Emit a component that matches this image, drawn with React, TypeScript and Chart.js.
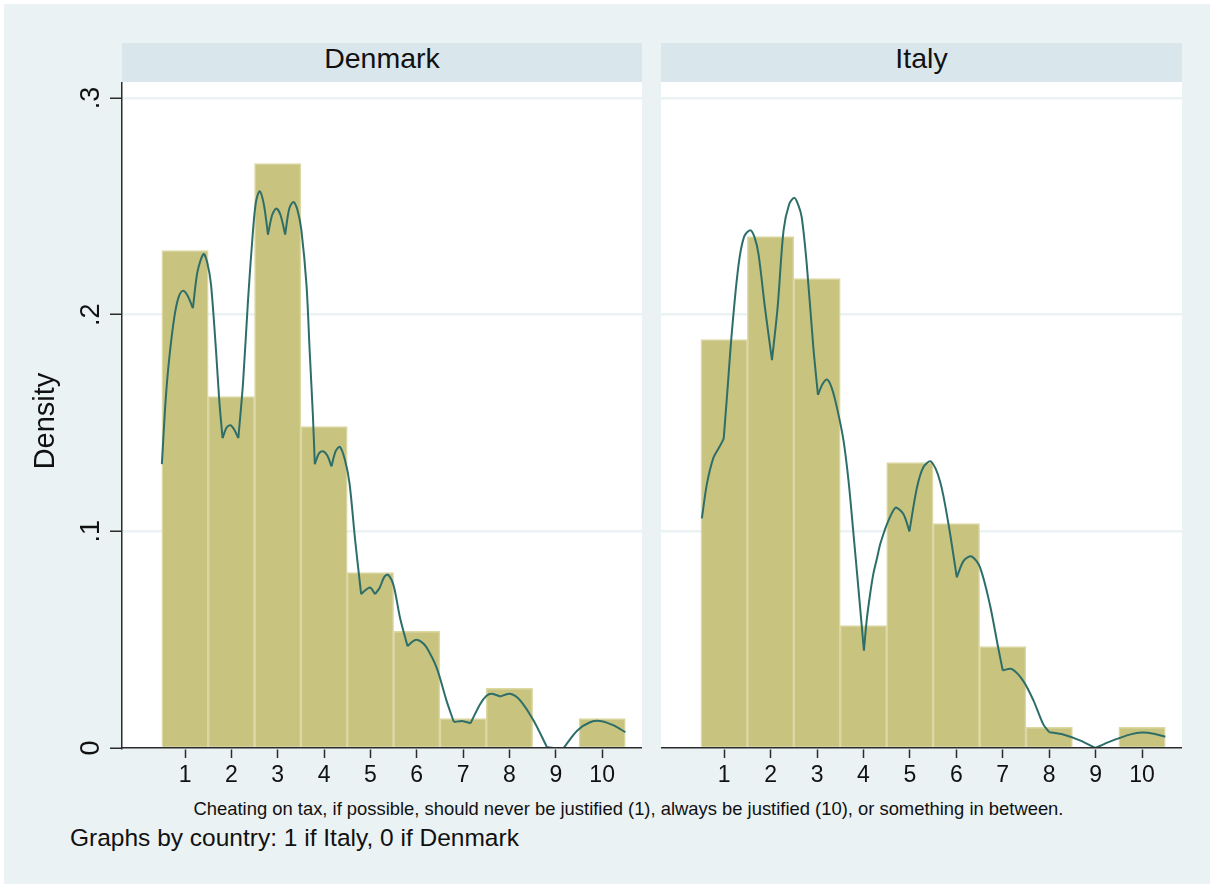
import React, { useEffect, useRef } from 'react';
import { Chart, registerables } from 'chart.js';

Chart.register(...registerables);

// ---------- data ----------
const categories = [1, 2, 3, 4, 5, 6, 7, 8, 9, 10];
const denmarkBars = [0.2296, 0.1622, 0.2697, 0.1484, 0.081, 0.0538, 0.0136, 0.0275, 0, 0.0136];
const italyBars = [0.1885, 0.236, 0.2167, 0.0565, 0.1317, 0.1036, 0.0468, 0.0095, 0, 0.0095];

const denmarkCurveX = [
  0.5, 0.58, 0.66, 0.77, 0.86, 0.95, 1.05, 1.17, 1.27, 1.4, 1.48, 1.56, 1.67, 1.74, 1.81, 1.9, 1.98,
  2.06, 2.15, 2.25, 2.36, 2.46, 2.53, 2.61, 2.7, 2.79, 2.88, 2.97, 3.06, 3.16, 3.25, 3.34, 3.43, 3.51,
  3.62, 3.69, 3.76, 3.8, 3.89, 3.98, 4.07, 4.16, 4.25, 4.34, 4.45, 4.55, 4.67, 4.8, 4.9, 5.0, 5.1,
  5.2, 5.3, 5.38, 5.5, 5.64, 5.8, 5.9, 5.99, 6.1, 6.21, 6.43, 6.64, 6.8, 7.0, 7.16, 7.36, 7.5, 7.62,
  7.8, 8.01, 8.23, 8.52, 8.81, 9.0, 9.17, 9.46, 9.74, 9.99, 10.25, 10.5,
];
const denmarkCurveY = [
  0.131, 0.16, 0.18, 0.199, 0.208, 0.211, 0.209, 0.203, 0.22, 0.228, 0.224, 0.214, 0.183, 0.16, 0.143,
  0.148, 0.149, 0.147, 0.143, 0.168, 0.207, 0.237, 0.252, 0.257, 0.251, 0.237, 0.246, 0.249, 0.246,
  0.237, 0.249, 0.252, 0.248, 0.239, 0.214, 0.183, 0.153, 0.131, 0.136, 0.137, 0.135, 0.13, 0.137,
  0.139, 0.133, 0.122, 0.096, 0.071, 0.073, 0.074, 0.071, 0.074, 0.079, 0.08, 0.075, 0.06, 0.047,
  0.049, 0.05, 0.049, 0.0465, 0.037, 0.022, 0.012, 0.0124, 0.0114, 0.02, 0.024, 0.025, 0.0238, 0.025,
  0.022, 0.0127, 0.0004, 0, 0, 0.008, 0.0119, 0.0124, 0.0104, 0.0073,
];
// x positions where the density estimate has a kink (local cusps)
const denmarkCusps = [1.17, 1.81, 2.15, 2.79, 3.16, 3.8, 4.16, 4.8, 5.1, 5.8, 6.8, 7.16, 7.8, 8.81, 9.17];

const italyCurveX = [
  0.52, 0.63, 0.77, 0.9, 0.99, 1.06, 1.17, 1.31, 1.43, 1.56, 1.65, 1.74, 1.88, 2.03, 2.15, 2.28, 2.4,
  2.51, 2.59, 2.67, 2.78, 2.92, 3.02, 3.12, 3.22, 3.32, 3.43, 3.57, 3.68, 3.78, 3.89, 4.01, 4.07, 4.14,
  4.21, 4.29, 4.36, 4.43, 4.5, 4.58, 4.64, 4.7, 4.86, 4.99, 5.15, 5.29, 5.45, 5.65, 5.83, 6.01, 6.16,
  6.33, 6.51, 6.72, 6.9, 7.0, 7.19, 7.44, 7.66, 7.87, 8.0, 8.3, 8.66, 9.0, 9.25, 9.5, 9.75, 10.0,
  10.25, 10.5,
];
const italyCurveY = [
  0.106, 0.122, 0.134, 0.139, 0.1427, 0.162, 0.193, 0.223, 0.236, 0.239, 0.236, 0.228, 0.203, 0.179,
  0.203, 0.239, 0.251, 0.254, 0.251, 0.245, 0.223, 0.185, 0.163, 0.168, 0.17, 0.166, 0.157, 0.142,
  0.123, 0.1, 0.074, 0.045, 0.059, 0.0705, 0.08, 0.0875, 0.094, 0.0988, 0.103, 0.107, 0.1095, 0.111,
  0.108, 0.1, 0.12, 0.1296, 0.1323, 0.123, 0.1035, 0.0788, 0.0865, 0.0884, 0.0834, 0.0665, 0.0465,
  0.0358, 0.0365, 0.031, 0.022, 0.011, 0.0073, 0.0062, 0.0035, 0, 0.0025, 0.0045, 0.0063, 0.0071,
  0.0066, 0.0052,
];
const italyCusps = [0.99, 2.03, 3.02, 4.01, 4.99, 6.01, 7.0, 8.0, 9.0];

const xTickValues = [1, 2, 3, 4, 5, 6, 7, 8, 9, 10];
const yTickValues = [0, 0.1, 0.2, 0.3];
const yTickLabels = ['0', '.1', '.2', '.3'];
const panelTitles = ['Denmark', 'Italy'];
const yTitle = 'Density';
const xTitle =
  'Cheating on tax, if possible, should never be justified (1), always be justified (10), or something in between.';
const noteText = 'Graphs by country: 1 if Italy, 0 if Denmark';

// ---------- style ----------
const FONT = '"Liberation Sans", Arial, Helvetica, sans-serif';
const OUTER_BG = '#EAF2F3';
const HEADER_BG = '#D9E6EB';
const GRID = '#EAF2F3';
const AXIS = '#2b2b2b';
const TEXT = '#111111';
const BAR_FILL = '#C9C380';
const BAR_EDGE = '#DCD8A3';
const CURVE = '#2E6E69';

const X_MIN = -0.36;
const X_MAX = 10.86;
const Y_MAX = 0.3074;

// split the curve into smooth pieces that meet at the cusps
function splitCurve(xs: number[], ys: number[], cusps: number[]) {
  const pieces: { x: number; y: number }[][] = [];
  let cur: { x: number; y: number }[] = [];
  xs.forEach((x, i) => {
    const p = { x, y: ys[i] };
    cur.push(p);
    if (cusps.some((c) => Math.abs(c - x) < 1e-6) && i > 0 && i < xs.length - 1) {
      pieces.push(cur);
      cur = [p];
    }
  });
  if (cur.length > 1) pieces.push(cur);
  return pieces;
}

type PanelProps = {
  left: number;
  top: number;
  width: number;
  height: number;
  bars: number[];
  cx: number[];
  cy: number[];
  cusps: number[];
  showY: boolean;
};

function Panel({ left, top, width, height, bars, cx, cy, cusps, showY }: PanelProps) {
  const ref = useRef<HTMLCanvasElement>(null);

  useEffect(() => {
    const canvas = ref.current;
    if (!canvas) return;

    const whiteArea = {
      id: 'whiteArea',
      beforeDraw(chart: any) {
        const { ctx, chartArea } = chart;
        ctx.save();
        ctx.fillStyle = '#ffffff';
        ctx.fillRect(chartArea.left, chartArea.top, chartArea.right - chartArea.left, chartArea.bottom - chartArea.top);
        ctx.restore();
      },
    };

    const yLabels = {
      id: 'yLabels',
      afterDraw(chart: any) {
        if (!showY) return;
        const { ctx, chartArea } = chart;
        const ys = chart.scales.y;
        ctx.save();
        ctx.fillStyle = TEXT;
        ctx.textAlign = 'center';
        ctx.textBaseline = 'alphabetic';
        ctx.font = `27px ${FONT}`;
        yTickValues.forEach((v, i) => {
          const py = ys.getPixelForValue(v);
          ctx.save();
          ctx.translate(chartArea.left - 23, py);
          ctx.rotate(-Math.PI / 2);
          ctx.fillText(yTickLabels[i], 0, 0);
          ctx.restore();
        });
        ctx.font = `29px ${FONT}`;
        ctx.save();
        ctx.translate(chartArea.left - 68, (chartArea.top + chartArea.bottom) / 2 + 6);
        ctx.rotate(-Math.PI / 2);
        ctx.fillText(yTitle, 0, 0);
        ctx.restore();
        ctx.restore();
      },
    };

    const curveSets = splitCurve(cx, cy, cusps).map((piece) => ({
      type: 'line',
      data: piece,
      borderColor: CURVE,
      borderWidth: 2,
      pointRadius: 0,
      tension: 0.3,
      fill: false,
      order: 0,
    }));

    const chart = new Chart(canvas, {
      type: 'bar',
      data: {
        datasets: [
          ...(curveSets as any[]),
          {
            type: 'bar',
            data: categories.map((c, i) => ({ x: c, y: bars[i] })),
            backgroundColor: BAR_FILL,
            borderColor: BAR_EDGE,
            borderWidth: 1.5,
            barPercentage: 1,
            categoryPercentage: 1,
            order: 1,
          } as any,
        ],
      },
      options: {
        animation: false,
        responsive: false,
        devicePixelRatio: 1,
        events: [],
        layout: { padding: 0 },
        plugins: {
          legend: { display: false },
          tooltip: { enabled: false },
          title: { display: false },
        },
        scales: {
          x: {
            type: 'linear',
            min: X_MIN,
            max: X_MAX,
            offset: false,
            afterBuildTicks: (s: any) => {
              s.ticks = xTickValues.map((v) => ({ value: v }));
            },
            afterFit: (s: any) => {
              s.height = 44;
            },
            grid: {
              drawOnChartArea: false,
              drawTicks: true,
              tickLength: 10,
              tickColor: AXIS,
              tickWidth: 1.5,
              offset: false,
            },
            border: { display: true, color: AXIS, width: 1.5, z: 1 },
            ticks: {
              font: { family: FONT, size: 23 },
              color: TEXT,
              padding: 4,
              maxRotation: 0,
              autoSkip: false,
              callback: (v: any) => String(v),
            },
          },
          y: {
            type: 'linear',
            position: 'left',
            min: 0,
            max: Y_MAX,
            afterBuildTicks: (s: any) => {
              s.ticks = yTickValues.map((v) => ({ value: v }));
            },
            afterFit: (s: any) => {
              s.width = showY ? 102 : 0;
            },
            grid: {
              color: GRID,
              lineWidth: 2.5,
              drawTicks: showY,
              tickLength: 12,
              tickColor: AXIS,
              tickWidth: 1.5,
            },
            border: { display: showY, color: AXIS, width: 1.5, z: 1 },
            ticks: { display: false },
          },
        },
      } as any,
      plugins: [whiteArea, yLabels],
    });

    return () => chart.destroy();
  }, []);

  return (
    <canvas
      ref={ref}
      width={width}
      height={height}
      style={{ position: 'absolute', left, top, width, height }}
    />
  );
}

export default function App() {
  const headerStyle = (left: number, width: number): React.CSSProperties => ({
    position: 'absolute',
    left,
    top: 43,
    width,
    height: 39,
    background: HEADER_BG,
    fontFamily: FONT,
    fontSize: 28.5,
    lineHeight: '31px',
    textAlign: 'center',
    color: TEXT,
  });

  return (
    <div style={{ position: 'absolute', left: 0, top: 0, width: 1214, height: 888, background: '#ffffff', overflow: 'hidden' }}>
      <div style={{ position: 'absolute', left: 4, top: 4, width: 1206, height: 880, background: OUTER_BG }} />
      <div style={headerStyle(122, 520)}>{panelTitles[0]}</div>
      <div style={headerStyle(661, 521)}>{panelTitles[1]}</div>
      <Panel left={20} top={82} width={622} height={710} bars={denmarkBars} cx={denmarkCurveX} cy={denmarkCurveY} cusps={denmarkCusps} showY={true} />
      <Panel left={661} top={82} width={521} height={710} bars={italyBars} cx={italyCurveX} cy={italyCurveY} cusps={italyCusps} showY={false} />
      <div
        style={{
          position: 'absolute',
          left: 0,
          width: 1257,
          top: 799,
          fontFamily: FONT,
          fontSize: 18.4,
          lineHeight: '20.5px',
          textAlign: 'center',
          color: TEXT,
          whiteSpace: 'nowrap',
        }}
      >
        {xTitle}
      </div>
      <div
        style={{
          position: 'absolute',
          left: 70,
          top: 824,
          fontFamily: FONT,
          fontSize: 24.5,
          lineHeight: '27.4px',
          color: TEXT,
          whiteSpace: 'nowrap',
        }}
      >
        {noteText}
      </div>
    </div>
  );
}
